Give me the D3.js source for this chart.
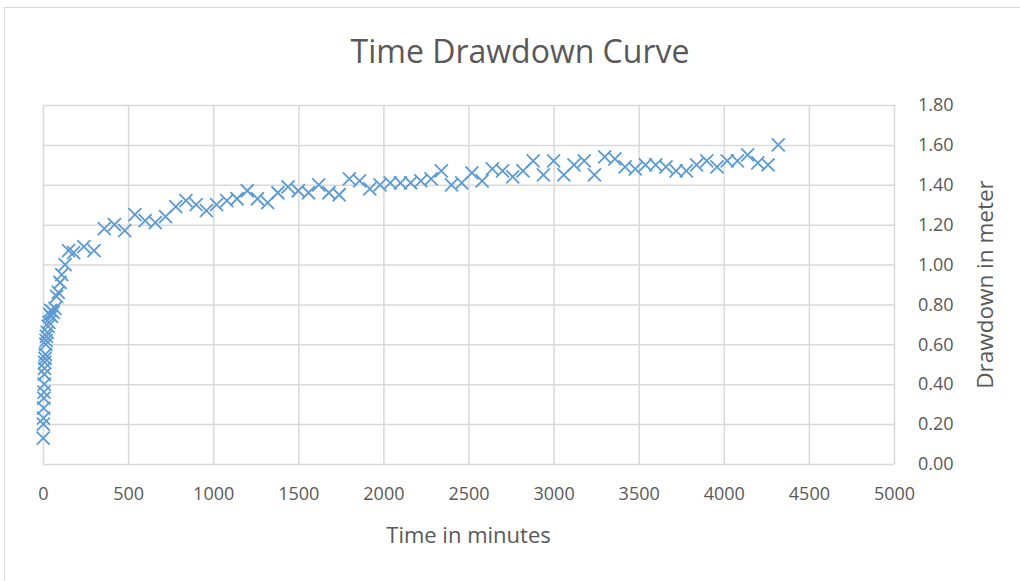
<!DOCTYPE html>
<html>
<head>
<meta charset="utf-8">
<script src="https://cdn.jsdelivr.net/npm/d3@7"></script>
<style>
  html, body { margin: 0; padding: 0; background: #fff; }
  svg { display: block; }
</style>
</head>
<body>
<svg id="chart" width="1020" height="581"></svg>
<script>
// Pumping test readings: elapsed time (minutes) and drawdown (metres)
const timeMinutes = [
  1, 2, 3, 4, 5, 6, 7, 8, 9, 10, 12, 14, 16, 18, 20, 25, 30, 35, 40, 45, 50, 60, 70,
  80, 90, 100, 110, 130, 150, 180, 240, 300,
  360, 420, 480, 540, 600, 660, 720, 780, 840, 900, 960, 1020, 1080, 1140, 1200,
  1260, 1320, 1380, 1440, 1500, 1560, 1620, 1680, 1740, 1800, 1860, 1920, 1980,
  2040, 2100, 2160, 2220, 2280, 2340, 2400, 2460, 2520, 2580, 2640, 2700, 2760,
  2820, 2880, 2940, 3000, 3060, 3120, 3180, 3240, 3300, 3360, 3420, 3480, 3540,
  3600, 3660, 3720, 3780, 3840, 3900, 3960, 4020, 4080, 4140, 4200, 4260, 4320
];
const drawdown = [
  0.13, 0.20, 0.23, 0.28, 0.33, 0.36, 0.40, 0.45, 0.48, 0.51, 0.53, 0.55, 0.60, 0.62, 0.64, 0.66, 0.69, 0.71, 0.75, 0.77, 0.74, 0.76, 0.78,
  0.84, 0.86, 0.91, 0.95, 1.00, 1.07, 1.06, 1.09, 1.07,
  1.18, 1.20, 1.17, 1.25, 1.22, 1.21, 1.24, 1.29, 1.32, 1.30, 1.27, 1.30, 1.32, 1.33, 1.37,
  1.33, 1.31, 1.36, 1.39, 1.37, 1.36, 1.40, 1.36, 1.35, 1.43, 1.42, 1.38, 1.40,
  1.41, 1.41, 1.41, 1.42, 1.43, 1.47, 1.40, 1.41, 1.46, 1.42, 1.48, 1.47, 1.44,
  1.47, 1.52, 1.45, 1.52, 1.45, 1.50, 1.52, 1.45, 1.54, 1.53, 1.49, 1.48, 1.50,
  1.50, 1.49, 1.47, 1.47, 1.50, 1.52, 1.49, 1.52, 1.52, 1.55, 1.51, 1.50, 1.60
];
const xTicks = [0, 500, 1000, 1500, 2000, 2500, 3000, 3500, 4000, 4500, 5000];
const yTicks = [0, 0.2, 0.4, 0.6, 0.8, 1.0, 1.2, 1.4, 1.6, 1.8];

const chartTitle = "Time Drawdown Curve";
const xTitle = "Time in minutes";
const yTitle = "Drawdown in meter";

const svg = d3.select("#chart");
const font = "'Open Sans', 'Noto Sans', sans-serif";
const textColor = "#595959";
const gridColor = "#d9d9d9";
const markColor = "#5b9bd5";

const plot = { left: 43, right: 894, top: 105, bottom: 464 };

const x = d3.scaleLinear().domain([0, 5000]).range([plot.left, plot.right]);
const y = d3.scaleLinear().domain([0, 1.8]).range([plot.bottom, plot.top]);

// Chart frame
svg.append("rect")
  .attr("x", 4.5).attr("y", 7.5)
  .attr("width", 1030).attr("height", 600)
  .attr("fill", "#fff").attr("stroke", gridColor).attr("stroke-width", 1);

// Title
svg.append("text")
  .attr("x", 520).attr("y", 63)
  .attr("text-anchor", "middle")
  .attr("font-family", font).attr("font-size", 32)
  .attr("fill", textColor)
  .text(chartTitle);

// Vertical gridlines and x tick labels
const xAxis = d3.axisBottom(x).tickValues(xTicks).tickSize(-(plot.bottom - plot.top)).tickPadding(23)
  .tickFormat(d3.format("d"));
const gx = svg.append("g").attr("transform", `translate(0,${plot.bottom})`).call(xAxis);
gx.select(".domain").remove();
gx.selectAll(".tick line").attr("stroke", gridColor).attr("stroke-width", 1.5);
gx.selectAll(".tick text")
  .attr("font-family", font).attr("font-size", 18).attr("fill", textColor);

// Horizontal gridlines and y tick labels on the right
const yAxis = d3.axisRight(y).tickValues(yTicks).tickSize(-(plot.right - plot.left)).tickPadding(24)
  .tickFormat(d3.format(".2f"));
const gy = svg.append("g").attr("transform", `translate(${plot.right},0)`).call(yAxis);
gy.select(".domain").remove();
gy.selectAll(".tick line").attr("stroke", gridColor).attr("stroke-width", 1.5);
gy.selectAll(".tick text")
  .attr("font-family", font).attr("font-size", 18).attr("fill", textColor);

// Axis titles
svg.append("text")
  .attr("x", (plot.left + plot.right) / 2).attr("y", 543)
  .attr("text-anchor", "middle")
  .attr("font-family", font).attr("font-size", 22)
  .attr("fill", textColor)
  .text(xTitle);

svg.append("text")
  .attr("transform", `translate(993,${(plot.top + plot.bottom) / 2}) rotate(-90)`)
  .attr("text-anchor", "middle")
  .attr("font-family", font).attr("font-size", 22.5)
  .attr("fill", textColor)
  .text(yTitle);

// Cross markers
const points = timeMinutes.map((t, i) => ({ t, d: drawdown[i] }));
const r = 6.5;
const marks = svg.append("g")
  .attr("stroke", markColor).attr("stroke-width", 1.8).attr("fill", "none");
marks.selectAll("path")
  .data(points)
  .join("path")
  .attr("d", p => {
    const cx = x(p.t), cy = y(p.d);
    return `M${cx - r},${cy - r}L${cx + r},${cy + r}M${cx - r},${cy + r}L${cx + r},${cy - r}`;
  });
</script>
</body>
</html>
